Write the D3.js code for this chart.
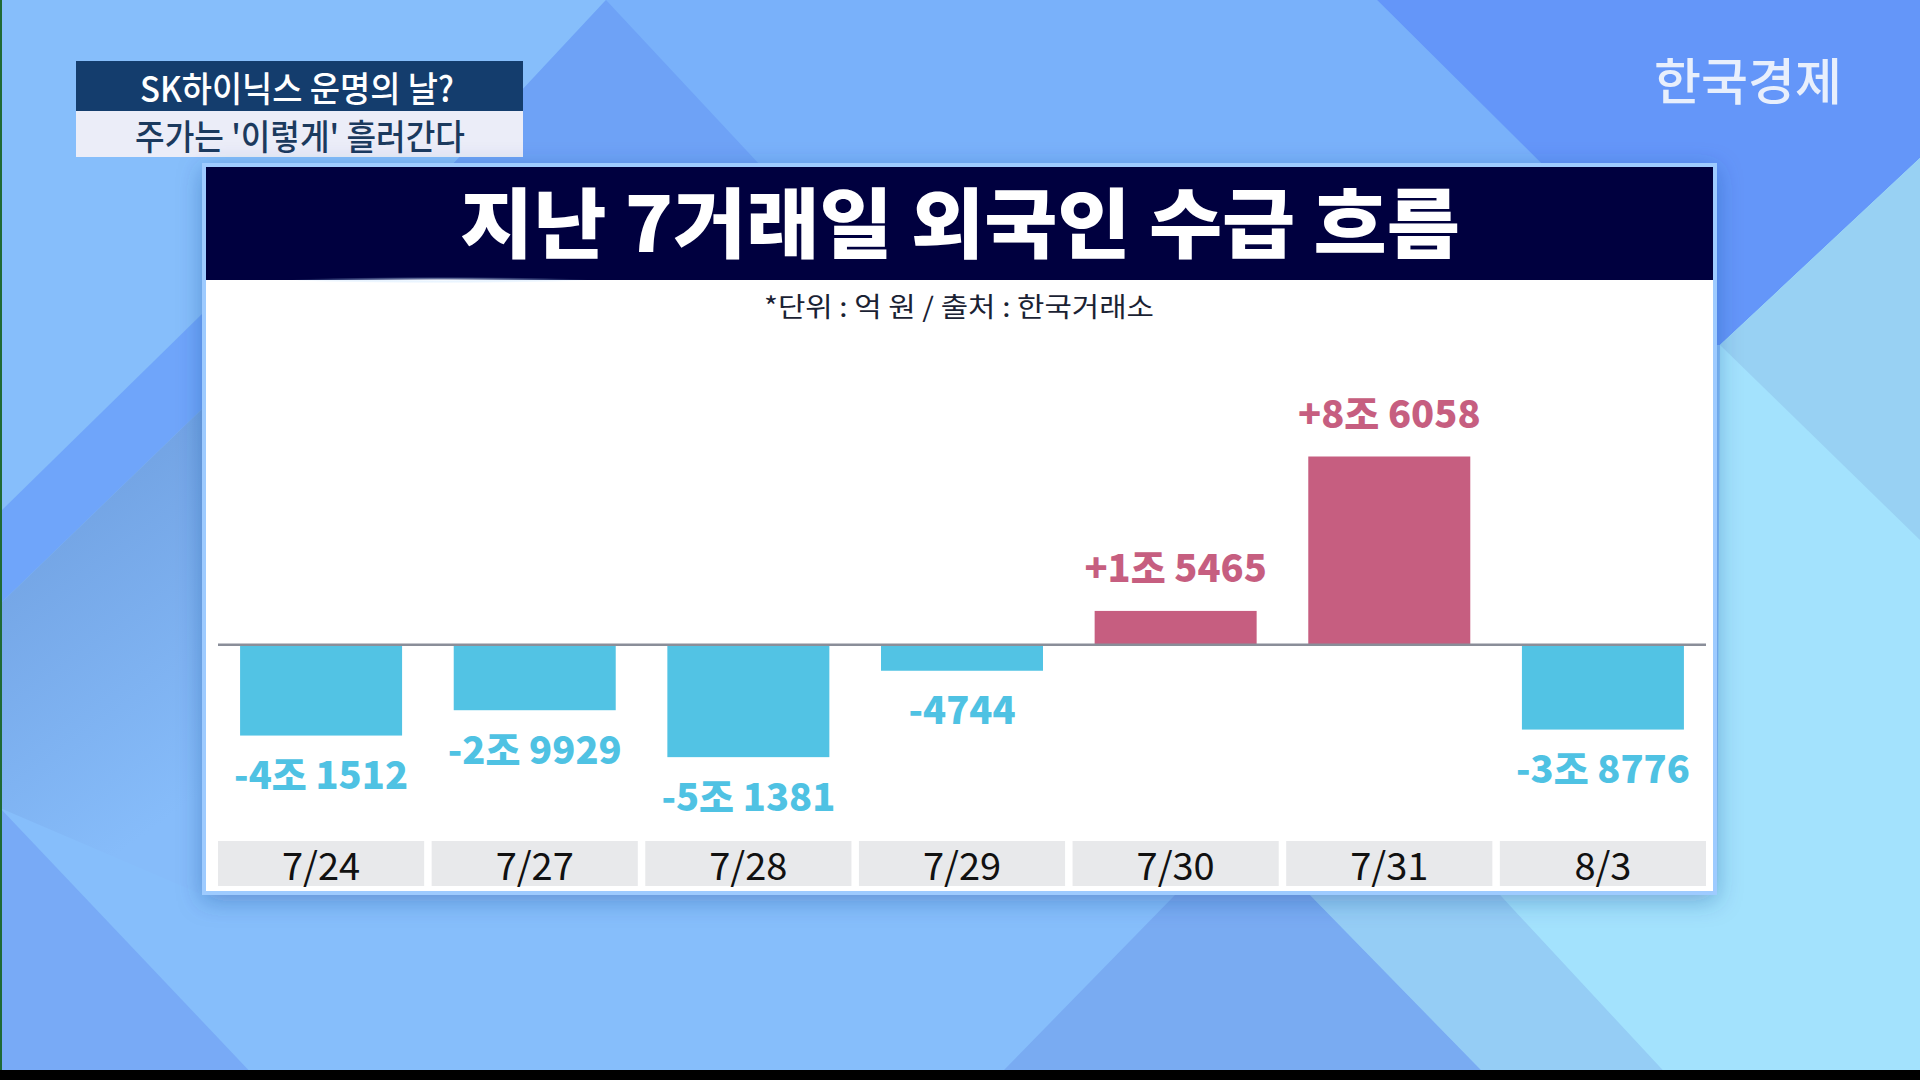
<html>
  <head>
    <meta charset="utf-8" />
    <script src="https://d3js.org/d3.v7.min.js"></script>
    <style>
      body { margin: 0; background: #000; }
      svg { display: block; }
    </style>
  </head>

  <body>
    <div id="vis"></div>
  </body>

  <script>
    // Data (unit: 억 원)
    var dates = ["7/24", "7/27", "7/28", "7/29", "7/30", "7/31", "8/3"];
    var netBuy = [-41512, -29929, -51381, -4744, 15465, 86058, -38776];
    var yDomain = [-60000, 100000];

    var W = 1920, H = 1080;
    var font = "'Noto Sans CJK KR', 'Noto Sans', sans-serif";

    var svg = d3
      .select("#vis")
      .append("svg")
      .attr("width", W)
      .attr("height", H);

    var defs = svg.append("defs");
    var shadow = defs.append("filter").attr("id", "shadow")
      .attr("x", "-10%").attr("y", "-10%").attr("width", "120%").attr("height", "125%");
    shadow.append("feDropShadow")
      .attr("dx", 0).attr("dy", 6).attr("stdDeviation", 12)
      .attr("flood-color", "#1d3f8f").attr("flood-opacity", 0.35);

    var lowGrad = defs.append("linearGradient").attr("id", "lowGrad")
      .attr("x1", 0).attr("y1", 0).attr("x2", 0.3).attr("y2", 1);
    lowGrad.append("stop").attr("offset", "0%").attr("stop-color", "#6c9bdc");
    lowGrad.append("stop").attr("offset", "100%").attr("stop-color", "#86bcfa");

    var flare = defs.append("radialGradient").attr("id", "flare");
    flare.append("stop").attr("offset", "0%").attr("stop-color", "#ffffff").attr("stop-opacity", 0.9);
    flare.append("stop").attr("offset", "100%").attr("stop-color", "#9fd0ff").attr("stop-opacity", 0);

    // Background
    var bg = svg.append("g");
    bg.append("rect").attr("width", W).attr("height", H).attr("fill", "#86befb");
    var shapes = [
      { c: "#79b1fa", p: [[606, 0], [1377, 0], [1543, 165], [452, 165]] },
      { c: "#6ea2f6", p: [[606, 0], [452, 165], [760, 165]] },
      { c: "#6496f9", p: [[1377, 0], [1920, 0], [1920, 158], [1720, 345], [1560, 345], [1543, 165]] },
      { c: "#6fa5fa", p: [[0, 512], [203, 313], [203, 408], [0, 604]] },
      { c: "url(#lowGrad)", p: [[0, 604], [203, 408], [203, 895], [0, 808]] },
      { c: "#78aaf6", p: [[0, 808], [258, 1080], [0, 1080]] },
      { c: "#79abf2", p: [[1175, 895], [1310, 895], [1481, 1070], [1004, 1070]] },
      { c: "#95cdf5", p: [[1310, 895], [1500, 895], [1672, 1070], [1481, 1070]] },
      { c: "#a3e2fd", p: [[1720, 345], [1920, 158], [1920, 1080], [1672, 1080], [1500, 895], [1717, 895]] },
      { c: "#98d1f3", p: [[1720, 345], [1920, 158], [1920, 540]] }
    ];
    bg.selectAll("polygon")
      .data(shapes)
      .enter()
      .append("polygon")
      .attr("points", function (d) { return d.p.join(" "); })
      .attr("fill", function (d) { return d.c; });
    bg.append("rect").attr("x", 0).attr("y", 0).attr("width", 2).attr("height", H).attr("fill", "#1f6a35");
    bg.append("rect").attr("x", 0).attr("y", 1070).attr("width", W).attr("height", 10).attr("fill", "#000");

    // Caption box (top left)
    svg.append("rect").attr("x", 76).attr("y", 61).attr("width", 447).attr("height", 50).attr("fill", "#143d6d");
    svg.append("rect").attr("x", 76).attr("y", 111).attr("width", 447).attr("height", 46).attr("fill", "#ebedf8");
    svg.append("text")
      .attr("x", 297).attr("y", 86)
      .attr("text-anchor", "middle").attr("dominant-baseline", "central")
      .attr("textLength", 314).attr("lengthAdjust", "spacingAndGlyphs")
      .style("font-family", font).style("font-size", "35px").style("font-weight", 500)
      .style("fill", "#ffffff")
      .text("SK하이닉스 운명의 날?");
    svg.append("text")
      .attr("x", 300).attr("y", 134)
      .attr("text-anchor", "middle").attr("dominant-baseline", "central")
      .attr("textLength", 330).attr("lengthAdjust", "spacingAndGlyphs")
      .style("font-family", font).style("font-size", "35px").style("font-weight", 500)
      .style("fill", "#1b3a5e")
      .text("주가는 '이렇게' 흘러간다");

    // Logo
    svg.append("text")
      .attr("x", 1748).attr("y", 78)
      .attr("text-anchor", "middle").attr("dominant-baseline", "central")
      .attr("textLength", 188).attr("lengthAdjust", "spacingAndGlyphs")
      .style("font-family", font).style("font-size", "50px").style("font-weight", 500)
      .style("fill", "#e8effc")
      .text("한국경제");

    // Panel
    var panel = svg.append("g");
    panel.append("rect")
      .attr("x", 202).attr("y", 163).attr("width", 1515).attr("height", 732)
      .attr("fill", "#9ecbff").attr("filter", "url(#shadow)");
    panel.append("rect")
      .attr("x", 206).attr("y", 167).attr("width", 1507).attr("height", 724)
      .attr("fill", "#ffffff");
    panel.append("rect")
      .attr("x", 206).attr("y", 167).attr("width", 1507).attr("height", 113)
      .attr("fill", "#00003f");
    panel.append("ellipse")
      .attr("cx", 440).attr("cy", 280).attr("rx", 150).attr("ry", 3)
      .attr("fill", "url(#flare)");
    panel.append("text")
      .attr("x", 960).attr("y", 219)
      .attr("text-anchor", "middle").attr("dominant-baseline", "central")
      .attr("textLength", 1000).attr("lengthAdjust", "spacingAndGlyphs")
      .style("font-family", font).style("font-size", "76px").style("font-weight", 900)
      .style("fill", "#ffffff")
      .text("지난 7거래일 외국인 수급 흐름");
    panel.append("text")
      .attr("x", 959).attr("y", 305)
      .attr("text-anchor", "middle").attr("dominant-baseline", "central")
      .attr("textLength", 390).attr("lengthAdjust", "spacingAndGlyphs")
      .style("font-family", font).style("font-size", "27px").style("font-weight", 400)
      .style("fill", "#1a2233")
      .text("*단위 : 억 원 / 출처 : 한국거래소");

    // Scales
    var x = d3.scaleBand().domain(dates).range([218, 1706]).paddingInner(0.035).paddingOuter(0);
    var y = d3.scaleLinear().domain(yDomain).range([776, 426]);
    var barW = 162;
    var minBar = 26; // small bars are drawn at a readable minimum height, as in the source graphic
    var posColor = "#c65e80", negColor = "#52c3e4";

    var rows = dates.map(function (d, i) { return { date: d, value: netBuy[i] }; });

    function barTop(d) {
      var h = Math.max(Math.abs(y(d.value) - y(0)), minBar);
      return d.value >= 0 ? y(0) - h : y(0);
    }
    function barH(d) {
      return Math.max(Math.abs(y(d.value) - y(0)), minBar);
    }
    function fmt(v) {
      var s = v < 0 ? "-" : "+";
      var a = Math.abs(v);
      if (a >= 10000) return s + Math.floor(a / 10000) + "조 " + (a % 10000);
      return s + a;
    }

    // Date cells
    var cells = svg.append("g").selectAll("g").data(rows).enter().append("g");
    cells.append("rect")
      .attr("x", function (d) { return x(d.date); })
      .attr("y", 841)
      .attr("width", x.bandwidth())
      .attr("height", 45)
      .attr("fill", "#e8e9eb");
    cells.append("text")
      .attr("x", function (d) { return x(d.date) + x.bandwidth() / 2; })
      .attr("y", 863)
      .attr("text-anchor", "middle").attr("dominant-baseline", "central")
      .style("font-family", font).style("font-size", "38px").style("font-weight", 400)
      .style("fill", "#111111")
      .text(function (d) { return d.date; });

    // Bars
    svg.append("g").selectAll("rect").data(rows).enter().append("rect")
      .attr("x", function (d) { return x(d.date) + (x.bandwidth() - barW) / 2; })
      .attr("y", barTop)
      .attr("width", barW)
      .attr("height", barH)
      .attr("fill", function (d) { return d.value >= 0 ? posColor : negColor; });

    // Zero line
    svg.append("line")
      .attr("x1", 218).attr("x2", 1706)
      .attr("y1", y(0)).attr("y2", y(0))
      .attr("stroke", "#8a8e99").attr("stroke-width", 2.5);

    // Value labels
    svg.append("g").selectAll("text").data(rows).enter().append("text")
      .attr("x", function (d) { return x(d.date) + x.bandwidth() / 2; })
      .attr("y", function (d) {
        return d.value >= 0 ? barTop(d) - 45 : barTop(d) + barH(d) + 37;
      })
      .attr("text-anchor", "middle").attr("dominant-baseline", "central")
      .style("font-family", font).style("font-size", "38px").style("font-weight", 800)
      .style("fill", function (d) { return d.value >= 0 ? posColor : "#4fc2e3"; })
      .text(function (d) { return fmt(d.value); });
  </script>
</html>
